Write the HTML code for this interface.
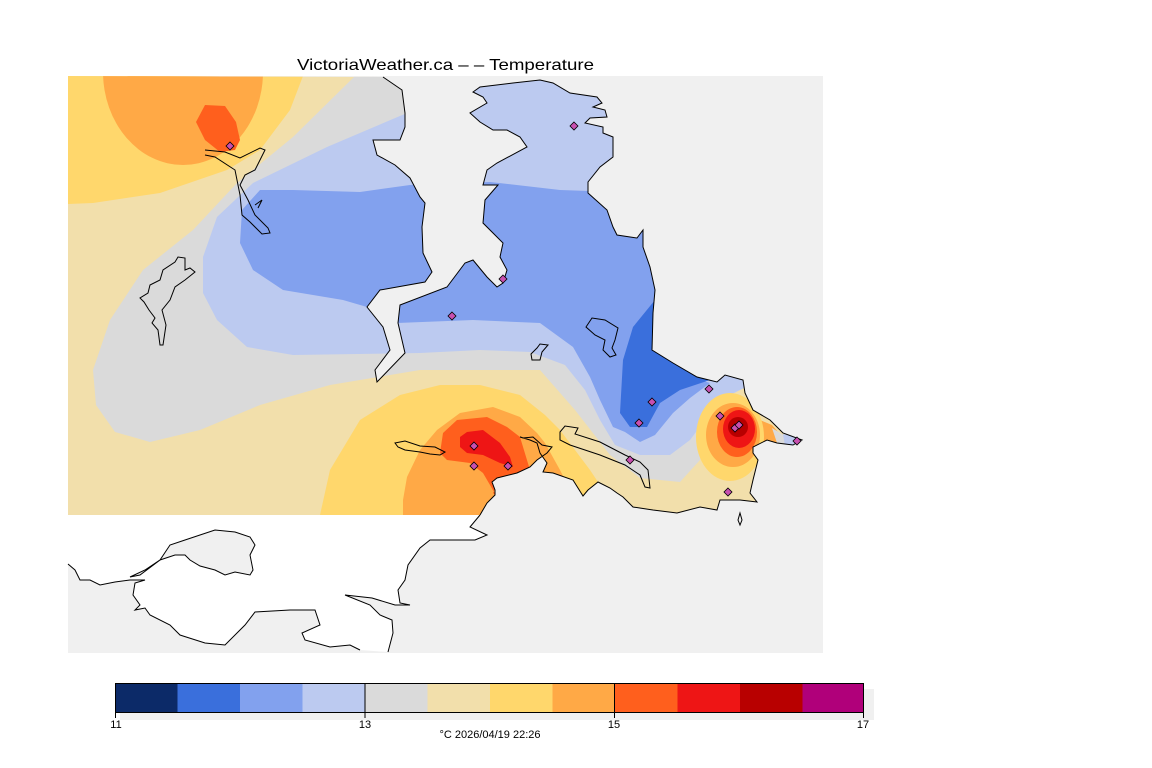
<!DOCTYPE html>
<html><head><meta charset="utf-8"><style>
html,body{margin:0;padding:0;background:#fff;width:1152px;height:768px;overflow:hidden}
svg{display:block}
text{font-family:"Liberation Sans",sans-serif;fill:#000}
</style></head><body>
<svg width="1152" height="768" viewBox="0 0 1152 768" xmlns="http://www.w3.org/2000/svg">
<defs>
<clipPath id="land">
<path d="M68,76 L383,77 L402,90 L405,113 L405,127 L400,140 L373,140 L377,155 L395,165 L410,178 L420,197 L425,203 L422,227 L423,253 L432,272 L425,282 L380,290 L367,307 L383,327 L390,350 L375,370 L377,382 L405,353 L398,323 L400,305 L447,287 L465,263 L473,260 L487,277 L497,287 L503,283 L507,270 L500,257 L503,243 L493,233 L483,223 L485,200 L498,185 L483,185 L487,170 L497,163 L527,147 L520,137 L507,130 L493,130 L480,122 L470,113 L487,103 L483,97 L473,92 L480,87 L513,83 L540,80 L553,83 L570,93 L597,97 L602,103 L593,107 L605,110 L607,117 L590,118 L585,123 L603,127 L603,133 L613,137 L613,157 L600,167 L588,182 L588,193 L607,210 L613,227 L617,235 L637,238 L643,230 L643,247 L650,267 L655,290 L653,313 L652,350 L673,363 L697,377 L717,382 L725,375 L743,380 L745,393 L753,410 L770,420 L783,433 L802,440 L793,445 L777,443 L767,440 L753,447 L753,453 L758,460 L753,480 L750,493 L757,502 L740,500 L720,500 L717,510 L700,507 L677,513 L653,510 L633,507 L623,497 L617,493 L610,488 L598,482 L588,490 L583,496 L573,480 L553,473 L543,472 L547,463 L540,453 L537,443 L530,440 L520,437 L523,438 L533,437 L542,445 L552,447 L547,453 L537,460 L530,467 L517,473 L497,478 L492,482 L495,490 L495,495 L487,503 L480,515 L68,515 Z"/>
<path d="M560,432 L565,426 L578,428 L575,434 L600,442 L625,455 L640,462 L648,470 L650,488 L645,487 L640,475 L625,465 L600,455 L570,445 L560,440 Z"/>
</clipPath>
</defs>
<rect x="68" y="76" width="755" height="577" fill="#f0f0f0"/>
<!-- white land south -->
<path d="M68,515 L480,515 L470,527 L487,535 L475,540 L430,540 L420,548 L408,565 L405,580 L398,590 L400,603 L410,605 L395,605 L372,598 L345,595 L370,605 L380,615 L392,620 L393,633 L388,652 L360,650 L350,645 L330,647 L305,640 L302,633 L320,625 L315,610 L290,610 L255,612 L245,625 L225,645 L205,643 L180,635 L170,625 L150,615 L145,608 L135,610 L140,605 L133,595 L135,583 L145,580 L130,580 L115,582 L100,585 L90,580 L80,580 L75,570 L68,564 Z" fill="#fff"/>
<path d="M480,515 L470,527 L487,535 L475,540 L430,540 L420,548 L408,565 L405,580 L398,590 L400,603 L410,605 L395,605 L372,598 L345,595 L370,605 L380,615 L392,620 L393,633 L388,652 M360,650 L350,645 L330,647 L305,640 L302,633 L320,625 L315,610 L290,610 L255,612 L245,625 L225,645 L205,643 L180,635 L170,625 L150,615 L145,608 L135,610 L140,605 L133,595 L135,583 L145,580 L130,580 L115,582 L100,585 L90,580 L80,580 L75,570 L68,564" fill="none" stroke="#000" stroke-width="1"/>
<path d="M130,577 L140,575 L160,560 L170,545 L185,540 L200,535 L215,530 L235,532 L250,537 L255,545 L250,555 L253,570 L250,575 L235,572 L225,575 L215,570 L200,566 L190,560 L185,555 L175,555 L160,560 L145,570 Z" fill="#f0f0f0" stroke="#000" stroke-width="1"/>
<g clip-path="url(#land)">
<rect x="68" y="76" width="755" height="440" fill="#f2dfab"/>
<path d="M355,76 L293,137 L237,183 L193,230 L143,270 L110,320 L93,370 L96,405 L115,432 L150,442 L200,430 L260,405 L330,385 L420,370 L540,370 L575,410 L610,455 L640,478 L680,482 L700,460 L705,425 L730,395 L760,380 L830,380 L830,76 Z" fill="#dadada"/>
<path d="M68,76 L303,76 L290,110 L260,150 L227,170 L160,193 L93,203 L68,204 Z" fill="#ffd76c"/>
<ellipse cx="183" cy="72" rx="80" ry="93" fill="#ffa946"/>
<path d="M205,105 L225,106 L236,122 L240,140 L235,150 L220,152 L205,140 L196,122 Z" fill="#ff5f1d"/>
<path d="M407,113 L327,147 L253,183 L217,217 L203,257 L203,293 L217,320 L247,347 L293,355 L420,353 L480,350 L530,352 L565,365 L585,390 L600,420 L615,445 L640,455 L670,455 L690,440 L705,420 L730,395 L760,380 L830,380 L830,76 L420,76 Z" fill="#bccaf0"/>
<path d="M260,190 L293,190 L360,192 L410,185 L490,182 L560,190 L620,192 L700,190 L700,380 L710,383 L690,398 L673,413 L655,435 L640,442 L625,432 L613,427 L600,400 L590,377 L573,347 L540,323 L473,320 L397,323 L367,307 L343,300 L283,290 L253,270 L240,243 L242,210 Z" fill="#82a1ee"/>
<path d="M655,300 L633,327 L623,360 L620,413 L630,427 L647,427 L660,403 L680,390 L710,380 L690,360 L660,345 Z" fill="#3a6fdc"/>
<path d="M320,515 L330,470 L360,420 L400,395 L440,385 L480,385 L520,395 L545,415 L560,430 L575,450 L590,470 L610,500 L560,515 Z" fill="#ffd76c"/>
<path d="M403,515 L403,500 L407,477 L420,450 L437,430 L460,413 L493,407 L520,417 L537,433 L545,443 L560,470 L565,480 L540,478 L500,500 L480,515 Z" fill="#ffa946"/>
<path d="M440,453 L443,433 L457,420 L487,417 L507,427 L520,437 L530,470 L500,477 L493,493 L497,497 L483,473 L470,463 L447,460 Z" fill="#ff5f1d"/>
<path d="M460,437 L467,432 L483,430 L500,443 L510,457 L513,467 L500,463 L483,455 L467,453 L460,447 Z" fill="#ee1515"/>
<path d="M755,418 L772,425 L785,440 L775,445 L757,448 Z" fill="#ffa946"/>
<path d="M772,428 L785,436 L790,445 L778,446 Z" fill="#dadada"/>
<path d="M783,434 L803,438 L800,447 L785,446 Z" fill="#bccaf0"/>
<ellipse cx="730" cy="437" rx="34" ry="44" fill="#ffd76c"/>
<ellipse cx="733" cy="435" rx="27" ry="32" fill="#ffa946"/>
<ellipse cx="737" cy="432" rx="20" ry="25" fill="#ff5f1d"/>
<ellipse cx="739" cy="429" rx="16" ry="19" fill="#ee1515"/>
<ellipse cx="738" cy="427" rx="10" ry="10" fill="#b80000"/>
</g>
<g fill="none" stroke="#000" stroke-width="1">
<path d="M383,77 L402,90 L405,113 L405,127 L400,140 L373,140 L377,155 L395,165 L410,178 L420,197 L425,203 L422,227 L423,253 L432,272 L425,282 L380,290 L367,307 L383,327 L390,350 L375,370 L377,382 L405,353 L398,323 L400,305 L447,287 L465,263 L473,260 L487,277 L497,287 L503,283 L507,270 L500,257 L503,243 L493,233 L483,223 L485,200 L498,185 L483,185 L487,170 L497,163 L527,147 L520,137 L507,130 L493,130 L480,122 L470,113 L487,103 L483,97 L473,92 L480,87 L513,83 L540,80 L553,83 L570,93 L597,97 L602,103 L593,107 L605,110 L607,117 L590,118 L585,123 L603,127 L603,133 L613,137 L613,157 L600,167 L588,182 L588,193 L607,210 L613,227 L617,235 L637,238 L643,230 L643,247 L650,267 L655,290 L653,313 L652,350 L673,363 L697,377 L717,382 L725,375 L743,380 L745,393 L753,410 L770,420 L783,433 L802,440 L793,445 L777,443 L767,440 L753,447 L753,453 L758,460 L753,480 L750,493 L757,502 L740,500 L720,500 L717,510 L700,507 L677,513 L653,510 L633,507 L623,497 L617,493 L610,488 L598,482 L588,490 L583,496 L573,480 L553,473 L543,472 L547,463 L540,453 L537,443 L530,440 L520,437 L523,438 L533,437 L542,445 L552,447 L547,453 L537,460 L530,467 L517,473 L497,478 L492,482 L495,490 L495,495 L487,503 L480,515"/>
<path d="M560,432 L565,426 L578,428 L575,434 L600,442 L625,455 L640,462 L648,470 L650,488 L645,487 L640,475 L625,465 L600,455 L570,445 L560,440 Z"/>
<path d="M205,150 L225,152 L240,158 L260,148 L265,150 L255,170 L245,175 L240,185 L248,200 L255,215 L268,228 L270,233 L262,234 L250,222 L242,215 L240,195 L235,170 L215,157 L205,155"/>
<path d="M255,205 L262,200 L258,208"/>
<path d="M160,345 L158,330 L152,323 L155,318 L149,310 L144,302 L140,298 L148,293 L150,285 L160,280 L163,270 L175,262 L178,257 L185,258 L185,270 L190,268 L195,272 L185,280 L175,287 L170,300 L162,310 L166,325 L163,345 Z"/>
<path d="M395,443 L405,441 L420,446 L435,447 L445,452 L440,455 L430,454 L420,452 L405,450 L398,447 Z"/>
<path d="M586,327 L592,318 L605,320 L618,328 L615,340 L612,348 L616,355 L610,357 L603,350 L605,340 L595,335 Z"/>
<path d="M531,354 L537,348 L540,344 L548,345 L542,352 L540,360 L532,360 Z"/>
<path d="M740,513 L742,520 L740,525 L738,520 Z"/>
</g>
<g fill="#c850b0" stroke="#000" stroke-width="0.8">
<path d="M230,142 L234,146 L230,150 L226,146 Z"/>
<path d="M574,122 L578,126 L574,130 L570,126 Z"/>
<path d="M503,275 L507,279 L503,283 L499,279 Z"/>
<path d="M452,312 L456,316 L452,320 L448,316 Z"/>
<path d="M652,398 L656,402 L652,406 L648,402 Z"/>
<path d="M639,419 L643,423 L639,427 L635,423 Z"/>
<path d="M709,385 L713,389 L709,393 L705,389 Z"/>
<path d="M720,412 L724,416 L720,420 L716,416 Z"/>
<path d="M735,424 L739,428 L735,432 L731,428 Z"/>
<path d="M739,421 L743,425 L739,429 L735,425 Z"/>
<path d="M728,488 L732,492 L728,496 L724,492 Z"/>
<path d="M474,442 L478,446 L474,450 L470,446 Z"/>
<path d="M474,462 L478,466 L474,470 L470,466 Z"/>
<path d="M508,462 L512,466 L508,470 L504,466 Z"/>
<path d="M797,437 L801,441 L797,445 L793,441 Z"/>
<path d="M630,456 L634,460 L630,464 L626,460 Z"/>
</g>
<text x="297" y="70" font-size="16" textLength="297" lengthAdjust="spacingAndGlyphs">VictoriaWeather.ca – –  Temperature</text>
<rect x="120" y="689" width="754" height="31" fill="#f0f0f0"/>
<rect x="115" y="683" width="63" height="30" fill="#0c2a68"/>
<rect x="177.5" y="683" width="63" height="30" fill="#3a6fdc"/>
<rect x="240" y="683" width="63" height="30" fill="#82a1ee"/>
<rect x="302.5" y="683" width="63" height="30" fill="#bccaf0"/>
<rect x="365" y="683" width="63" height="30" fill="#dadada"/>
<rect x="427.5" y="683" width="63" height="30" fill="#f2dfab"/>
<rect x="490" y="683" width="63" height="30" fill="#ffd76c"/>
<rect x="552.5" y="683" width="63" height="30" fill="#ffa946"/>
<rect x="615" y="683" width="63" height="30" fill="#ff5f1d"/>
<rect x="677.5" y="683" width="63" height="30" fill="#ee1515"/>
<rect x="740" y="683" width="63" height="30" fill="#b80000"/>
<rect x="802.5" y="683" width="61.5" height="30" fill="#b0007a"/>
<rect x="115.5" y="683.5" width="748" height="29" fill="none" stroke="#000" stroke-width="1"/>
<path d="M365,683 V718 M614.5,683 V718 M115.5,713 V718 M863.5,713 V718" stroke="#000" stroke-width="1"/>
<text x="116" y="728" font-size="11" text-anchor="middle">11</text>
<text x="365" y="728" font-size="11" text-anchor="middle">13</text>
<text x="614" y="728" font-size="11" text-anchor="middle">15</text>
<text x="863" y="728" font-size="11" text-anchor="middle">17</text>
<text x="490" y="738" font-size="11" text-anchor="middle">°C  2026/04/19 22:26</text>
</svg>
</body></html>
